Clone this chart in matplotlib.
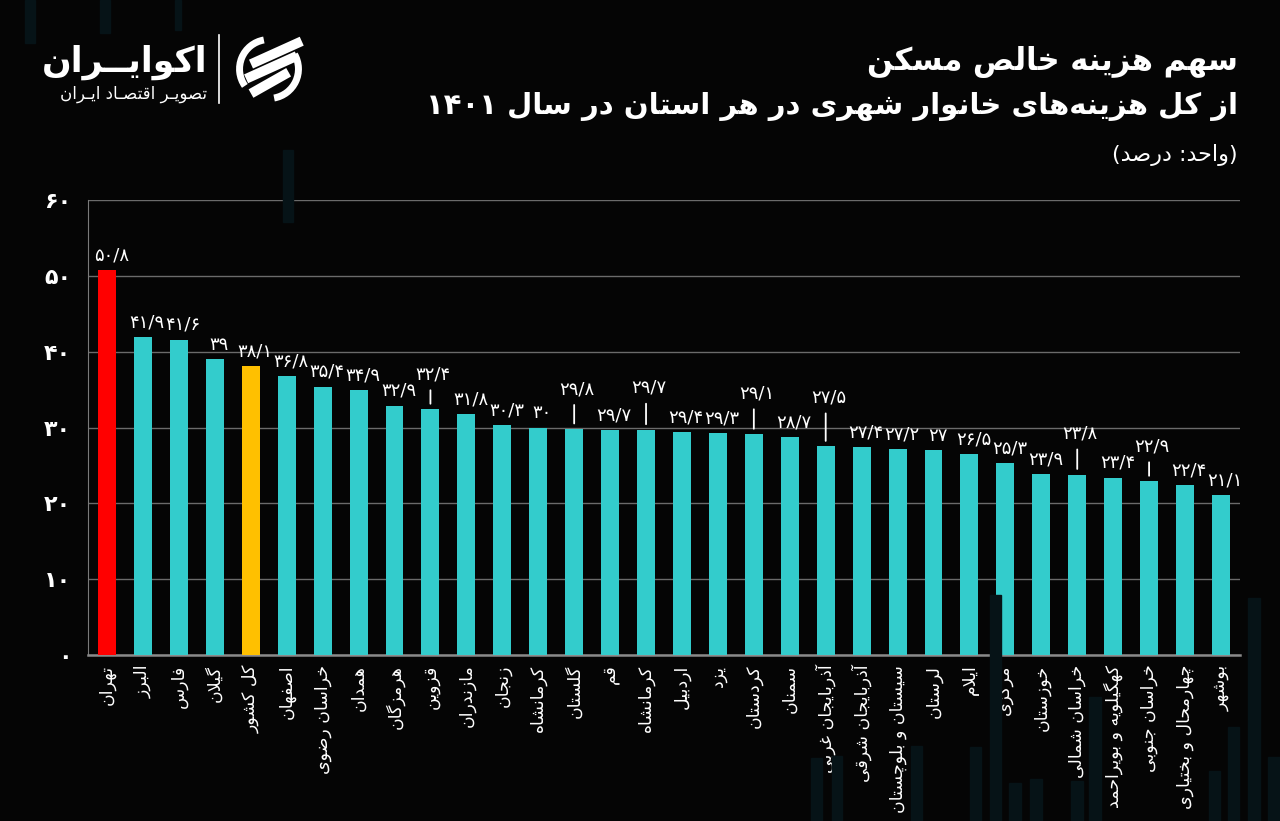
import re
import matplotlib
matplotlib.use('Agg')
import matplotlib.pyplot as plt
from matplotlib.patches import Rectangle, Arc

# data
provinces = ['تهران', 'البرز', 'فارس', 'گیلان', 'کل کشور', 'اصفهان', 'خراسان رضوی', 'همدان',
             'هرمزگان', 'قزوین', 'مازندران', 'زنجان', 'کرمانشاه', 'گلستان', 'قم', 'کرمانشاه',
             'اردبیل', 'یزد', 'کردستان', 'سمنان', 'آذربایجان غربی', 'آذربایجان شرقی',
             'سیستان و بلوچستان', 'لرستان', 'ایلام', 'مرکزی', 'خوزستان', 'خراسان شمالی',
             'کهگیلویه و بویراحمد', 'خراسان جنوبی', 'چهارمحال و بختیاری', 'بوشهر']
shares = [50.8, 41.9, 41.6, 39, 38.1, 36.8, 35.4, 34.9, 32.9, 32.4, 31.8, 30.3, 30, 29.8, 29.7,
          29.7, 29.4, 29.3, 29.1, 28.7, 27.5, 27.4, 27.2, 27, 26.5, 25.3, 23.9, 23.8, 23.4,
          22.9, 22.4, 21.1]
yticks = [0, 10, 20, 30, 40, 50, 60]

title1 = 'سهم هزینه خالص مسکن'
title2 = 'از کل هزینه\u200cهای خانوار شهری در هر استان در سال ۱۴۰۱'
unit = '(واحد: درصد)'

BG = '#050505'
TEAL = '#33CCCC'
bar_colors = [TEAL] * len(shares)
bar_colors[0] = '#FF0000'
bar_colors[4] = '#FFC000'

# labels that sit higher with a small leader line: index -> lift in px
leaders = {9: 26, 13: 31, 15: 33, 18: 32, 20: 40, 27: 32, 29: 26}

# --- minimal Persian shaping (matplotlib has no bidi/shaping) ---
FORMS = {
    'ء': ('\uFE80',), 'آ': ('\uFE81', '\uFE82'), 'أ': ('\uFE83', '\uFE84'),
    'ؤ': ('\uFE85', '\uFE86'), 'إ': ('\uFE87', '\uFE88'),
    'ئ': ('\uFE89', '\uFE8A', '\uFE8B', '\uFE8C'), 'ا': ('\uFE8D', '\uFE8E'),
    'ب': ('\uFE8F', '\uFE90', '\uFE91', '\uFE92'), 'ة': ('\uFE93', '\uFE94'),
    'ت': ('\uFE95', '\uFE96', '\uFE97', '\uFE98'), 'ث': ('\uFE99', '\uFE9A', '\uFE9B', '\uFE9C'),
    'ج': ('\uFE9D', '\uFE9E', '\uFE9F', '\uFEA0'), 'ح': ('\uFEA1', '\uFEA2', '\uFEA3', '\uFEA4'),
    'خ': ('\uFEA5', '\uFEA6', '\uFEA7', '\uFEA8'), 'د': ('\uFEA9', '\uFEAA'),
    'ذ': ('\uFEAB', '\uFEAC'), 'ر': ('\uFEAD', '\uFEAE'), 'ز': ('\uFEAF', '\uFEB0'),
    'س': ('\uFEB1', '\uFEB2', '\uFEB3', '\uFEB4'), 'ش': ('\uFEB5', '\uFEB6', '\uFEB7', '\uFEB8'),
    'ص': ('\uFEB9', '\uFEBA', '\uFEBB', '\uFEBC'), 'ض': ('\uFEBD', '\uFEBE', '\uFEBF', '\uFEC0'),
    'ط': ('\uFEC1', '\uFEC2', '\uFEC3', '\uFEC4'), 'ظ': ('\uFEC5', '\uFEC6', '\uFEC7', '\uFEC8'),
    'ع': ('\uFEC9', '\uFECA', '\uFECB', '\uFECC'), 'غ': ('\uFECD', '\uFECE', '\uFECF', '\uFED0'),
    'ف': ('\uFED1', '\uFED2', '\uFED3', '\uFED4'), 'ق': ('\uFED5', '\uFED6', '\uFED7', '\uFED8'),
    'ك': ('\uFED9', '\uFEDA', '\uFEDB', '\uFEDC'), 'ل': ('\uFEDD', '\uFEDE', '\uFEDF', '\uFEE0'),
    'م': ('\uFEE1', '\uFEE2', '\uFEE3', '\uFEE4'), 'ن': ('\uFEE5', '\uFEE6', '\uFEE7', '\uFEE8'),
    'ه': ('\uFEE9', '\uFEEA', '\uFEEB', '\uFEEC'), 'و': ('\uFEED', '\uFEEE'),
    'ى': ('\uFEEF', '\uFEF0'), 'ي': ('\uFEF1', '\uFEF2', '\uFEF3', '\uFEF4'),
    'پ': ('\uFB56', '\uFB57', '\uFB58', '\uFB59'), 'چ': ('\uFB7A', '\uFB7B', '\uFB7C', '\uFB7D'),
    'ژ': ('\uFB8A', '\uFB8B'), 'ک': ('\uFB8E', '\uFB8F', '\uFB90', '\uFB91'),
    'گ': ('\uFB92', '\uFB93', '\uFB94', '\uFB95'), 'ی': ('\uFBFC', '\uFBFD', '\uFBFE', '\uFBFF'),
    'ـ': ('ـ', 'ـ', 'ـ', 'ـ'),
}
LAM_ALEF = {'ا': ('\uFEFB', '\uFEFC'), 'آ': ('\uFEF5', '\uFEF6')}


def dual(c):
    return c in FORMS and len(FORMS[c]) == 4


def joins(c):
    return c in FORMS and len(FORMS[c]) >= 2


def shape(text):
    out = []
    i, n = 0, len(text)
    while i < n:
        c = text[i]
        prev = text[i - 1] if i > 0 else ''
        jp = dual(prev)
        if c == 'ل' and i + 1 < n and text[i + 1] in LAM_ALEF:
            out.append(LAM_ALEF[text[i + 1]][1 if jp else 0])
            i += 2
            continue
        if c not in FORMS:
            out.append(c)
            i += 1
            continue
        f = FORMS[c]
        nxt = text[i + 1] if i + 1 < n else ''
        jn = len(f) == 4 and joins(nxt)
        if len(f) == 1:
            out.append(f[0])
        elif jp and jn:
            out.append(f[3])
        elif jp:
            out.append(f[1])
        elif jn:
            out.append(f[2])
        else:
            out.append(f[0])
        i += 1
    return ''.join(out).replace('\u200c', '')


MIRROR = str.maketrans('()', ')(')


def rtl(text):
    s = shape(text)
    runs = re.findall(r'[0-9۰-۹/.]+|[^0-9۰-۹/.]+', s)
    out = []
    for r in reversed(runs):
        if re.match(r'[0-9۰-۹]', r):
            out.append(r)
        else:
            out.append(r[::-1].translate(MIRROR))
    return ''.join(out)


FA_DIGITS = str.maketrans('0123456789', '۰۱۲۳۴۵۶۷۸۹')


def fa_num(v):
    return f'{v:g}'.replace('.', '/').translate(FA_DIGITS)


plt.rcParams['font.family'] = ['DejaVu Sans']

fig = plt.figure(figsize=(12.8, 8.21), dpi=100, facecolor=BG)

# faint decorative background stripes (pixel boxes: x, y_top, w, h)
deco = [(25, 0, 10, 43), (100, 0, 10, 33), (175, 0, 6, 30), (283, 150, 10, 72),
        (990, 595, 11, 226), (1089, 697, 12, 124), (1248, 598, 12, 223),
        (1209, 771, 11, 50), (1228, 727, 11, 94), (1268, 757, 12, 64),
        (811, 758, 11, 63), (832, 756, 10, 65), (911, 746, 11, 75), (970, 747, 11, 74),
        (1009, 783, 12, 38), (1030, 779, 12, 42), (1071, 781, 12, 40)]
for x, y, w, h in deco:
    fig.patches.append(Rectangle((x / 1280, 1 - (y + h) / 821), w / 1280, h / 821,
                                 transform=fig.transFigure, color='#061317', zorder=0))

ax = fig.add_axes([88 / 1280, 1 - 655 / 821, 1152 / 1280, 455 / 821])
ax.set_facecolor('none')
x = list(range(len(shares)))
bars = ax.bar(x, shares, width=0.5, color=bar_colors, zorder=3)

ax.set_xlim(-0.53, len(shares) - 1 + 0.53)
ax.set_ylim(0, 60)
ax.set_yticks(yticks)
ax.set_yticklabels([fa_num(t) for t in yticks], fontsize=16, fontweight='bold', color='white')
ax.set_xticks(x)
ax.set_xticklabels([rtl(p) for p in provinces], rotation=90, fontsize=12.5, color='white')
ax.tick_params(axis='both', length=0)
ax.tick_params(axis='y', pad=12)
ax.tick_params(axis='x', pad=7)
ax.yaxis.grid(True, color='#6b6b6b', lw=1)
ax.set_axisbelow(True)
for s in ['top', 'right']:
    ax.spines[s].set_visible(False)
ax.spines['left'].set_color('#7a7a7a')
ax.spines['bottom'].set_color('#8a8a8a')
ax.spines['bottom'].set_linewidth(1.8)

for i, (b, v) in enumerate(zip(bars, shares)):
    cx = b.get_x() + b.get_width() / 2
    if i in leaders:
        lift = leaders[i] * 0.72
        ax.annotate(fa_num(v), (cx, v), xytext=(2, lift), textcoords='offset points',
                    ha='center', va='bottom', color='white', fontsize=13, zorder=4)
        ax.annotate('', (cx, v), xytext=(0, lift - 5), textcoords='offset points',
                    xycoords='data',
                    arrowprops=dict(arrowstyle='-', color='white', lw=1.3,
                                    shrinkA=0, shrinkB=4))
    else:
        ax.annotate(fa_num(v), (cx, v), xytext=(3, 4), textcoords='offset points',
                    ha='center', va='bottom', color='white', fontsize=13, zorder=4)

# titles
fig.text(1238 / 1280, 1 - 62 / 821, rtl(title1), ha='right', va='center',
         fontsize=22, fontweight='bold', color='white')
fig.text(1238 / 1280, 1 - 106 / 821, rtl(title2), ha='right', va='center',
         fontsize=21, fontweight='bold', color='white')
fig.text(1238 / 1280, 1 - 155 / 821, rtl(unit), ha='right', va='center',
         fontsize=16, color='white')

# logo
fig.text(207 / 1280, 1 - 62 / 821, rtl('اکوایــران'), ha='right', va='center',
         fontsize=25, fontweight='bold', color='white')
fig.text(207 / 1280, 1 - 94 / 821, rtl('تصویـر اقتصـاد ایـران'), ha='right', va='center',
         fontsize=12, color='white')
fig.lines.append(plt.Line2D([219 / 1280, 219 / 1280], [1 - 35 / 821, 1 - 103 / 821],
                            transform=fig.transFigure, color='white', lw=1.2))
icon = fig.add_axes([233 / 1280, 1 - 105 / 821, 72 / 1280, 72 / 821])
icon.set_xlim(-1.1, 1.1)
icon.set_ylim(-1.1, 1.1)
icon.set_aspect('equal')
icon.axis('off')
icon.add_patch(Arc((0, 0), 1.8, 1.8, theta1=100, theta2=215, color='white', lw=5))
icon.add_patch(Arc((0, 0), 1.8, 1.8, theta1=280, theta2=30, color='white', lw=5))
for x0, y0, x1, y1 in [(-0.55, 0.15, 1.0, 0.85), (-0.7, -0.3, 0.85, 0.4),
                       (-0.55, -0.75, 0.6, -0.1)]:
    icon.plot([x0, x1], [y0, y1], color='white', lw=7, solid_capstyle='butt')

fig.savefig('out.png', dpi=100, facecolor=BG)
